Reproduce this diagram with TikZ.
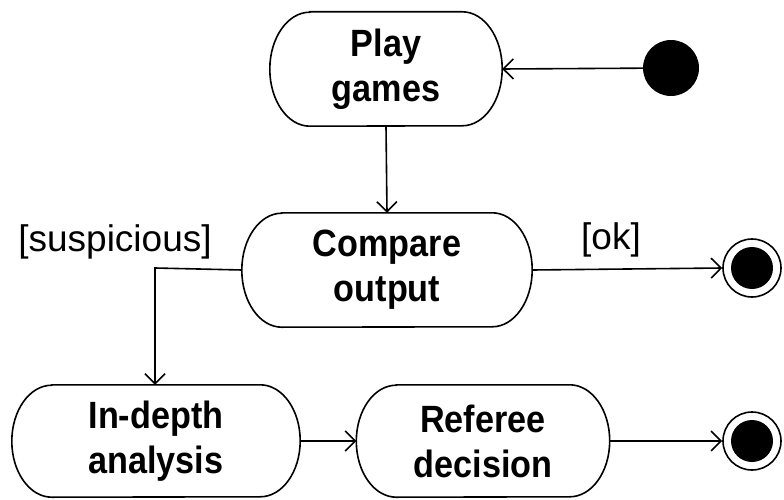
\documentclass[tikz,border=0pt]{standalone}
\usepackage{fontspec}
\setmainfont{Liberation Sans}
\newfontfamily\boxfont[FakeStretch=0.9]{Liberation Sans}
\usetikzlibrary{arrows.meta}
\tikzset{
  act/.style={draw=none, inner sep=0pt, align=center, font=\boxfont\fontsize{38}{45}\selectfont\bfseries},
  conn/.style={line width=1.6pt, -{Straight Barb[length=10pt,width=20pt,line width=1.6pt]}},
  guard/.style={font=\fontsize{37}{40}\selectfont},
}
% draw rounded activity outline around a named node
\newcommand{\actoutline}[3]{% name, x radius, half height
  \draw[line width=1.6pt] ([xshift=#2]#1.north west) -- ([xshift=-#2]#1.north east)
    arc[start angle=90, end angle=-90, x radius=#2, y radius=#3]
    -- ([xshift=#2]#1.south west)
    arc[start angle=270, end angle=90, x radius=#2, y radius=#3] -- cycle;}
\begin{document}
\begin{tikzpicture}[x=1pt,y=-1pt]
\useasboundingbox (0,0) rectangle (784,500);
\node[act, minimum width=232pt, minimum height=114pt] (pg) at (386,69) {Play\\games};
\actoutline{pg}{40pt}{57pt}
\node[act, minimum width=290pt, minimum height=114pt] (co) at (387,270) {Compare\\output};
\actoutline{co}{40pt}{57pt}
\node[act, minimum width=288pt, minimum height=112pt] (ia) at (156,441) {In-depth\\analysis};
\actoutline{ia}{40pt}{56pt}
\node[act, minimum width=253pt, minimum height=112pt] (rd) at (483,441) {Referee\\decision};
\actoutline{rd}{40pt}{56pt}

\node[circle, fill=black, minimum size=56pt, inner sep=0pt] (start) at (671,68) {};
\node[circle, draw, line width=1.6pt, minimum size=58pt, inner sep=0pt] (end1) at (752,268) {};
\node[circle, fill=black, minimum size=42pt, inner sep=0pt] at (end1) {};
\node[circle, draw, line width=1.6pt, minimum size=58pt, inner sep=0pt] (end2) at (752,441) {};
\node[circle, fill=black, minimum size=42pt, inner sep=0pt] at (end2) {};

\coordinate (bend) at (155,268);
\draw[conn] (start) -- (pg.east);
\draw[conn] (pg.south) -- (co.north);
\draw[conn] (co.east) -- (end1.west);
\draw[conn] (co.west) -- (bend) -- (ia.north -| bend);
\draw[conn] (ia.east) -- (rd.west);
\draw[conn] (rd.east) -- (end2.west);

\node[guard] (sus) at (115,242) {[suspicious]};
\node[guard] (ok) at (611,240) {[ok]};
\end{tikzpicture}
\end{document}
